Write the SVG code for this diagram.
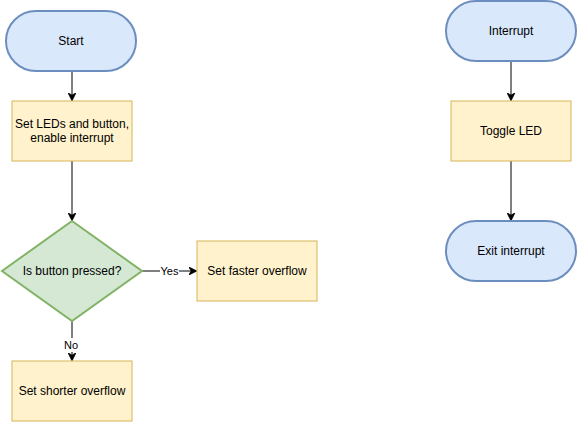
<svg xmlns="http://www.w3.org/2000/svg" width="578" height="422" viewBox="0 0 578 422">
<style>
.term{fill:#dae8fc;stroke:#6c8ebf;stroke-width:2}
.proc{fill:#fff2cc;stroke:#d6b656;stroke-width:1}
.dec{fill:#d5e8d4;stroke:#82b366;stroke-width:2}
text{font-family:"Liberation Sans",Arial,sans-serif;font-size:12px;fill:#000;text-anchor:middle;dominant-baseline:central}
.lbl{font-size:11px}
.edge{fill:none;stroke:#000;stroke-width:1}
</style>
<defs>
<marker id="arr" viewBox="0 0 10 10" refX="9" refY="5" markerWidth="8" markerHeight="8" markerUnits="userSpaceOnUse" orient="auto">
<path d="M0,0 L10,5 L0,10 L3,5 Z" fill="#000" stroke="#000" stroke-width="1"/>
</marker>
</defs>
<rect width="578" height="422" fill="#fff"/>
<g id="connectors">
<line class="edge" x1="72" y1="71" x2="72" y2="100" marker-end="url(#arr)"/>
<line class="edge" x1="72" y1="161" x2="72" y2="220" marker-end="url(#arr)"/>
<line class="edge" x1="142" y1="271" x2="196" y2="271" marker-end="url(#arr)"/>
<line class="edge" x1="72" y1="321" x2="72" y2="360" marker-end="url(#arr)"/>
<line class="edge" x1="511" y1="61" x2="511" y2="100" marker-end="url(#arr)"/>
<line class="edge" x1="511" y1="161" x2="511" y2="220" marker-end="url(#arr)"/>
<rect x="160" y="264" width="19" height="14" fill="#fff"/>
<text class="lbl" x="169.5" y="271">Yes</text>
<rect x="63" y="338" width="17" height="14" fill="#fff"/>
<text class="lbl" x="71" y="345">No</text>
</g>
<g id="start">
<rect class="term" x="6" y="11" width="130" height="60" rx="30" ry="30"/>
<text x="71" y="41">Start</text>
</g>
<g id="setup">
<rect class="proc" x="12" y="101" width="120" height="60"/>
<text x="72" y="124">Set LEDs and button,</text>
<text x="72" y="138">enable interrupt</text>
</g>
<g id="decision">
<polygon class="dec" points="72,221 142,271 72,321 2,271"/>
<text x="72" y="271">Is button pressed?</text>
</g>
<g id="faster">
<rect class="proc" x="197" y="241" width="120" height="60"/>
<text x="257" y="271">Set faster overflow</text>
</g>
<g id="shorter">
<rect class="proc" x="12" y="361" width="120" height="60"/>
<text x="72" y="391">Set shorter overflow</text>
</g>
<g id="interrupt">
<rect class="term" x="446" y="1" width="130" height="60" rx="30" ry="30"/>
<text x="511" y="31">Interrupt</text>
</g>
<g id="toggle">
<rect class="proc" x="451" y="101" width="120" height="60"/>
<text x="511" y="131">Toggle LED</text>
</g>
<g id="exit">
<rect class="term" x="446" y="221" width="130" height="60" rx="30" ry="30"/>
<text x="511" y="251">Exit interrupt</text>
</g>
</svg>
